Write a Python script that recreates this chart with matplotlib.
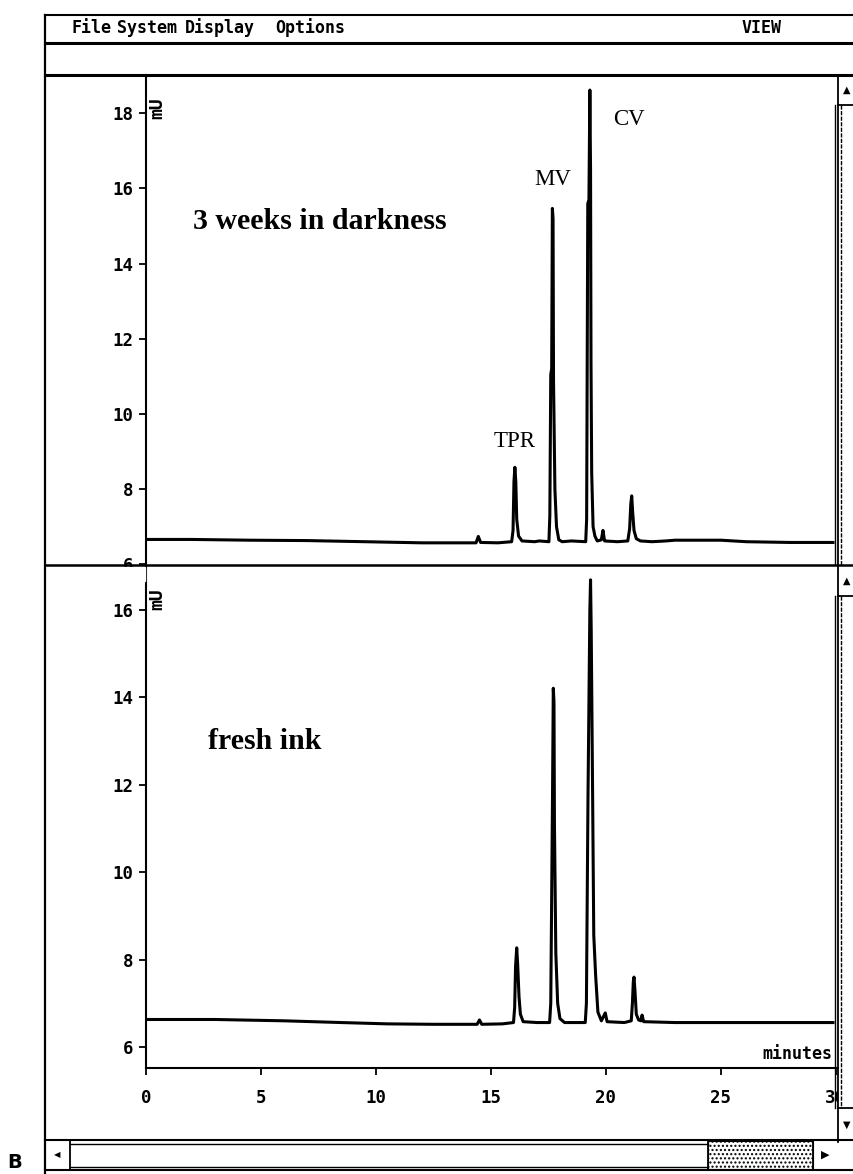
import matplotlib
matplotlib.use("Agg")
from matplotlib import pyplot as plt
from matplotlib.lines import Line2D
from matplotlib.patches import Rectangle
from matplotlib.transforms import Affine2D

plt.rcParams["font.family"] = "DejaVu Sans Mono"
plt.rcParams["font.weight"] = "bold"

W, H = 854, 1174

# chromatogram, ink kept 3 weeks in darkness: time (min), signal (mAU)
dark_t = [0.0, 2.0, 4.5, 7.0, 9.5, 12.0, 14.35, 14.45, 14.55, 15.3, 15.90,
          15.96, 16.00, 16.04, 16.08, 16.12, 16.20, 16.35,
          16.9, 17.1, 17.52,
          17.56, 17.60, 17.64, 17.67, 17.70, 17.72, 17.78, 17.85, 17.95, 18.1, 18.5, 19.12,
          19.16, 19.21, 19.26, 19.30, 19.33, 19.35, 19.38, 19.44, 19.52, 19.62,
          19.80, 19.87, 19.94, 20.5, 20.95,
          21.03, 21.08, 21.12, 21.16, 21.22, 21.32, 21.5,
          22.0, 22.6, 23.0, 25.0, 26.1, 28.0, 29.87]
dark_mau = [6.66, 6.66, 6.64, 6.63, 6.60, 6.57, 6.57, 6.74, 6.58, 6.57, 6.60,
            6.90, 8.20, 8.58, 8.20, 7.20, 6.75, 6.62,
            6.60, 6.62, 6.60,
            7.30, 11.05, 11.20, 15.47, 15.20, 10.90, 8.00, 7.00, 6.65, 6.60, 6.62, 6.60,
            7.20, 15.60, 15.70, 18.62, 16.50, 11.35, 8.43, 7.00, 6.75, 6.62,
            6.65, 6.90, 6.62, 6.60, 6.62,
            6.95, 7.60, 7.82, 7.40, 6.90, 6.68, 6.62,
            6.60, 6.62, 6.64, 6.64, 6.60, 6.58, 6.58]

# chromatogram, fresh ink
fresh_t = [0.0, 3.0, 6.0, 8.5, 10.5, 12.5, 14.4, 14.5, 14.6, 15.5, 15.98,
           16.03, 16.07, 16.12, 16.16, 16.22, 16.28, 16.40,
           17.0, 17.55,
           17.60, 17.64, 17.68, 17.71, 17.74, 17.76, 17.82, 17.90, 18.00, 18.2, 19.10,
           19.15, 19.22, 19.30, 19.33, 19.36, 19.42, 19.47, 19.55, 19.65, 19.80,
           19.97, 20.05, 20.8, 21.10,
           21.15, 21.19, 21.22, 21.26, 21.32, 21.42, 21.52, 21.57, 21.64,
           23.0, 25.0, 27.0, 29.87]
fresh_mau = [6.63, 6.63, 6.60, 6.56, 6.53, 6.52, 6.52, 6.62, 6.52, 6.53, 6.56,
             6.90, 7.85, 8.27, 7.90, 7.15, 6.75, 6.58,
             6.56, 6.56,
             7.00, 9.44, 12.00, 14.21, 13.90, 11.13, 8.15, 7.00, 6.65, 6.56, 6.56,
             7.00, 11.77, 16.00, 16.69, 15.50, 11.77, 8.56, 7.65, 6.80, 6.60,
             6.78, 6.58, 6.56, 6.60,
             7.00, 7.50, 7.60, 7.30, 6.75, 6.62, 6.60, 6.73, 6.58,
             6.56, 6.56, 6.56, 6.56]

peak_names = ["TPR", "MV", "CV"]
peak_label_t = [16.04, 17.70, 21.01]
peak_label_mau = [9.27, 16.23, 17.84]

x_ticks = [0, 5, 10, 15, 20, 25, 30]
top_y_ticks = [6, 8, 10, 12, 14, 16, 18]
bottom_y_ticks = [6, 8, 10, 12, 14, 16]
menu_items = ["File", "System", "Display", "Options"]

fig = plt.figure(figsize=(W / 100, H / 100), dpi=100)
# pixel coordinates, origin top-left
px = Affine2D().scale(1 / W, -1 / H).translate(0, 1) + fig.transFigure


def box(x, y, w, h):
    return [x / W, 1 - (y + h) / H, w / W, h / H]


def hline(y, x0, x1, lw=1.5, **kw):
    fig.add_artist(Line2D([x0, x1], [y, y], transform=px, color="black", lw=lw, zorder=3, **kw))


def vline(x, y0, y1, lw=1.5, **kw):
    fig.add_artist(Line2D([x, x], [y0, y1], transform=px, color="black", lw=lw, zorder=3, **kw))


ax_top = fig.add_axes(box(146, 75, 692, 490))
ax_bot = fig.add_axes(box(146, 565, 692, 503))

for ax in (ax_top, ax_bot):
    ax.set_xlim(0, 30.09)
    for side in ("top", "right", "bottom"):
        ax.spines[side].set_visible(False)
    ax.spines["left"].set_linewidth(1.5)
    ax.tick_params(axis="y", direction="out", length=5, width=1.3, pad=4, labelsize=12.5)

ax_top.plot(dark_t, dark_mau, color="black", lw=2.2)
ax_top.set_ylim(5.98, 19.02)
ax_top.set_yticks(top_y_ticks)
ax_top.set_xticks([])

ax_bot.plot(fresh_t, fresh_mau, color="black", lw=2.2)
ax_bot.set_ylim(5.52, 17.03)
ax_bot.set_yticks(bottom_y_ticks)
ax_bot.set_xticks(x_ticks)
ax_bot.spines["bottom"].set_visible(True)
ax_bot.spines["bottom"].set_linewidth(1.5)
ax_bot.tick_params(axis="x", direction="out", length=5, width=1.3, pad=10, labelsize=12.5)

for name, t, v in zip(peak_names, peak_label_t, peak_label_mau):
    ax_top.text(t, v, name, family="Liberation Serif", weight="normal", fontsize=16.5,
                ha="center", va="center")
ax_top.text(7.57, 15.12, "3 weeks in darkness", family="Liberation Serif", fontsize=21.5,
            ha="center", va="center")
ax_bot.text(5.17, 13.0, "fresh ink", family="Liberation Serif", fontsize=21.5,
            ha="center", va="center")

for y in (108, 599):
    fig.text(157 / W, 1 - y / H, "mU", rotation=90, fontsize=13, ha="center", va="center")
fig.text(832 / W, 1 - 1054 / H, "minutes", fontsize=12, ha="right", va="center")

# menu bar
for item, x in zip(menu_items, [72, 117, 185, 275]):
    fig.text(x / W, 1 - 28 / H, item, fontsize=12, ha="left", va="center")
fig.text(742 / W, 1 - 28 / H, "VIEW", fontsize=12, ha="left", va="center")

# masks for labels running under the divider and the scroll bar
fig.add_artist(Rectangle((47, 566.5), 98, 14, transform=px, color="white", zorder=1))
fig.add_artist(Rectangle((838.5, 1070), 15.5, 37, transform=px, color="white", zorder=1))

# window frame
hline(15, 45, W, 1.5)
hline(43, 45, W, 2.2)
hline(75, 45, W, 2.2)
hline(565, 45, W, 1.8)
vline(45, 15, H, 1.6)

# vertical scroll bars
vline(838, 75, 1142, 1.3)
vline(835, 105, 565, 1.0)
vline(841, 105, 565, 1.0, ls=(0, (3, 1)))
hline(105, 838, W, 1.3)
fig.text(847 / W, 1 - 90 / H, "\u25b2", family="DejaVu Sans", fontsize=7, ha="center", va="center")
vline(835, 596, 1108, 1.0)
vline(841, 596, 1108, 1.0, ls=(0, (3, 1)))
hline(596, 838, W, 1.3)
hline(1108, 838, W, 1.3)
fig.text(847 / W, 1 - 581 / H, "\u25b2", family="DejaVu Sans", fontsize=7, ha="center", va="center")
fig.text(847 / W, 1 - 1125 / H, "\u25bc", family="DejaVu Sans", fontsize=7, ha="center", va="center")

# horizontal scroll bar
hline(1140, 45, W, 1.5)
hline(1143.5, 70, 708, 1.0)
hline(1167, 70, 708, 1.0)
hline(1170, 45, W, 1.5)
vline(70, 1140, 1170, 1.3)
vline(708, 1140, 1170, 1.3)
vline(813, 1140, 1170, 1.3)
fig.add_artist(Rectangle((708, 1141), 105, 28, transform=px, facecolor="white",
                         edgecolor="black", hatch="....", lw=0.8, zorder=2))
fig.text(57 / W, 1 - 1155 / H, "\u25c0", family="DejaVu Sans", fontsize=6, ha="center", va="center")
fig.text(825 / W, 1 - 1155 / H, "\u25b6", family="DejaVu Sans", fontsize=8, ha="center", va="center")

fig.text(15 / W, 1 - 1163 / H, "B", family="DejaVu Sans", fontsize=14, ha="center", va="center")

fig.savefig("out.png", dpi=100)
